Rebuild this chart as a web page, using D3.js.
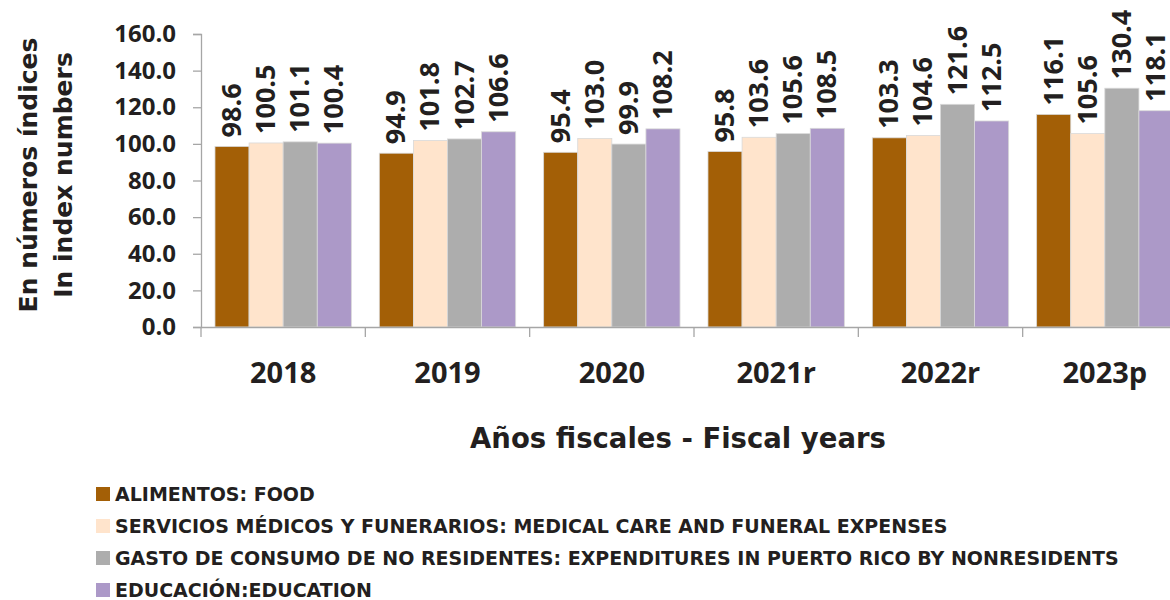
<!DOCTYPE html>
<html><head><meta charset="utf-8">
<script src="https://cdn.jsdelivr.net/npm/d3@7"></script>
<style>
html,body{margin:0;padding:0;background:#fff;overflow:hidden}
text{font-family:"Open Sans",sans-serif;font-weight:700;fill:#231f20}
.dv{font-family:"DejaVu Sans",sans-serif;font-weight:700}
</style></head>
<body>
<svg id="c" width="1170" height="600"></svg>
<script>
const years = ["2018","2019","2020","2021r","2022r","2023p"];
const seriesNames = [
  "ALIMENTOS: FOOD",
  "SERVICIOS MÉDICOS Y FUNERARIOS: MEDICAL CARE AND FUNERAL EXPENSES",
  "GASTO DE CONSUMO DE NO RESIDENTES: EXPENDITURES IN PUERTO RICO BY NONRESIDENTS",
  "EDUCACIÓN:EDUCATION"
];
const food      = [98.6, 94.9, 95.4, 95.8, 103.3, 116.1];
const medical   = [100.5, 101.8, 103.0, 103.6, 104.6, 105.6];
const nonres    = [101.1, 102.7, 99.9, 105.6, 121.6, 130.4];
const education = [100.4, 106.6, 108.2, 108.5, 112.5, 118.1];
const yTicks = [0,20,40,60,80,100,120,140,160];
const colors = ["#a35f06","#ffe4cc","#adadad","#ac99c8"];

const seriesVals = [food, medical, nonres, education];
const svg = d3.select("#c");
const x0 = 201, x1 = 1187, yb = 327, yt = 34;

const x = d3.scaleBand().domain(years).range([x0, x1]).paddingInner(0).paddingOuter(0);
const xs = d3.scaleBand().domain(d3.range(4)).range([0, x.bandwidth()]).paddingInner(0).paddingOuter(0.41);
const y = d3.scaleLinear().domain([0,160]).range([yb, yt]);

// y axis
const ya = svg.append("g").attr("transform",`translate(${x0},0)`)
  .call(d3.axisLeft(y).tickValues(yTicks).tickFormat(d3.format(".1f")).tickSizeOuter(0).tickSize(8).tickPadding(17));
ya.select(".domain").attr("stroke","#a6a6a6").attr("stroke-width",1.3);
ya.selectAll(".tick line").attr("stroke","#a6a6a6").attr("stroke-width",1.3);
ya.selectAll(".tick text").style("font-size","24px").attr("fill","#231f20");

// bars
const groups = svg.append("g").selectAll("g").data(years).join("g")
  .attr("transform", d => `translate(${x(d)},0)`);
groups.each(function(yr, i){
  const g = d3.select(this);
  seriesVals.forEach((vals, s) => {
    g.append("rect")
      .attr("x", xs(s)).attr("width", xs.bandwidth())
      .attr("y", y(vals[i])).attr("height", yb - y(vals[i]))
      .attr("fill", colors[s]).attr("stroke","#d9d9d9").attr("stroke-width",0.8);
    const cx = xs(s) + xs.bandwidth()/2;
    g.append("text")
      .attr("transform", `translate(${cx + 9},${y(vals[i]) - 9}) rotate(-90)`)
      .style("font-size","27px")
      .text(vals[i].toFixed(1));
  });
});

// x axis
const xa = svg.append("g").attr("transform",`translate(0,${yb})`)
  .call(d3.axisBottom(x).tickSize(0).tickSizeOuter(0).tickPadding(35));
xa.select(".domain").attr("stroke","#a6a6a6").attr("stroke-width",1.3);
xa.selectAll(".tick text").style("font-size","29px").attr("fill","#231f20");
// separator ticks between categories
svg.append("g").selectAll("line").data(years.concat(["_end"])).join("line")
  .attr("x1",(d,i)=> i < years.length ? x(d) : x1)
  .attr("x2",(d,i)=> i < years.length ? x(d) : x1)
  .attr("y1",yb).attr("y2",yb+10)
  .attr("stroke","#a6a6a6").attr("stroke-width",1.3);

// axis titles
svg.append("text").attr("class","dv").attr("x",678).attr("y",448).attr("text-anchor","middle")
  .style("font-size","27.5px").text("Años fiscales - Fiscal years");
const yt1 = svg.append("text").attr("class","dv").attr("transform","translate(37,175) rotate(-90)").attr("text-anchor","middle")
  .style("font-size","25px");
yt1.append("tspan").attr("x",0).attr("dy",0).text("En números índices");
yt1.append("tspan").attr("x",0).attr("dy",35).text("In index numbers");

// legend
const lg = svg.append("g").selectAll("g").data(seriesNames).join("g")
  .attr("transform",(d,i)=>`translate(96,${494 + i*32})`);
lg.append("rect").attr("x",0).attr("y",-7).attr("width",14).attr("height",14).attr("fill",(d,i)=>colors[i]);
lg.append("text").attr("class","dv").attr("x",19).attr("y",7).style("font-size","19px").text(d=>d);
</script>
</body></html>
